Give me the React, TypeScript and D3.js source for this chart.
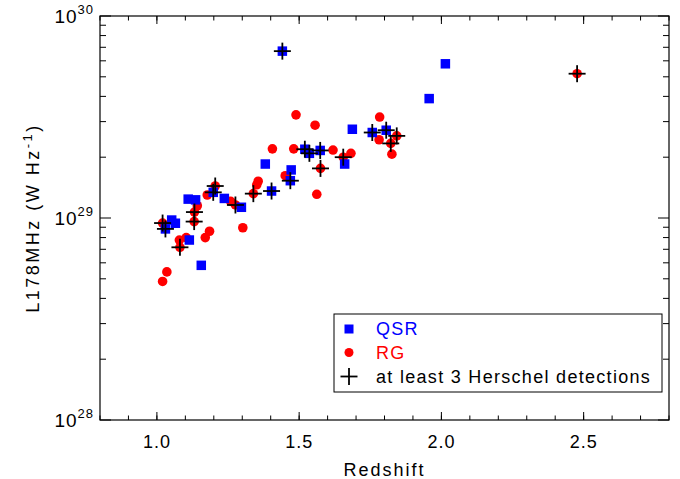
import React from "react";
import * as d3 from "d3";

// QSR (blue squares)
const qsrZ = [1.441, 2.014, 1.957, 1.687, 1.757, 1.806, 1.520, 1.536, 1.574, 1.660, 1.381, 1.472, 1.469, 1.403, 1.198, 1.237, 1.297, 1.110, 1.136, 1.052, 1.065, 1.030, 1.114, 1.156];
const qsrL = [6.7e29, 5.8e29, 3.9e29, 2.75e29, 2.65e29, 2.72e29, 2.19e29, 2.09e29, 2.16e29, 1.85e29, 1.85e29, 1.73e29, 1.53e29, 1.36e29, 1.34e29, 1.25e29, 1.13e29, 1.24e29, 1.23e29, 9.77e28, 9.42e28, 8.83e28, 7.78e28, 5.83e28];
const qsrHerschel = [1, 0, 0, 0, 1, 1, 1, 1, 1, 0, 0, 0, 1, 1, 1, 0, 0, 0, 0, 0, 0, 1, 0, 0];

// RG (red circles)
const rgZ = [2.477, 1.489, 1.556, 1.783, 1.843, 1.781, 1.822, 1.826, 1.406, 1.481, 1.619, 1.655, 1.682, 1.575, 1.451, 1.356, 1.351, 1.339, 1.562, 1.205, 1.177, 1.259, 1.276, 1.142, 1.132, 1.131, 1.302, 1.185, 1.170, 1.020, 1.079, 1.103, 1.081, 1.035, 1.020];
const rgL = [5.18e29, 3.24e29, 2.88e29, 3.16e29, 2.55e29, 2.44e29, 2.34e29, 2.07e29, 2.2e29, 2.2e29, 2.17e29, 2.0e29, 2.09e29, 1.76e29, 1.62e29, 1.52e29, 1.46e29, 1.32e29, 1.31e29, 1.44e29, 1.3e29, 1.21e29, 1.16e29, 1.15e29, 1.07e29, 9.6e28, 8.95e28, 8.6e28, 8.0e28, 9.44e28, 7.78e28, 8.0e28, 7.16e28, 5.41e28, 4.85e28];
const rgHerschel = [1, 0, 0, 0, 1, 0, 1, 0, 0, 0, 0, 1, 0, 1, 0, 0, 0, 1, 0, 1, 0, 0, 1, 0, 1, 1, 0, 0, 0, 1, 0, 0, 1, 0, 0];

const xMajorTicks = [1.0, 1.5, 2.0, 2.5];
const xTickLabels = ["1.0", "1.5", "2.0", "2.5"];
const yMajorExps = [28, 29, 30];
const legendLabels = ["QSR", "RG", "at least 3 Herschel detections"];

const W = 680, H = 479;
const L = 100, R = 669, T = 16, B = 420;
const FONT = "'Liberation Sans', Arial, sans-serif";

export default function App() {
  const x = d3.scaleLinear().domain([0.8, 2.8]).range([L, R]);
  const y = d3.scaleLog().domain([1e28, 1e30]).range([B, T]);

  const xMinor = d3.range(8, 29).map((v) => v / 10);
  const yMinor: number[] = [];
  for (const e of [28, 29]) for (let m = 2; m <= 9; m++) yMinor.push(m * Math.pow(10, e));

  const sq = 9.5;
  const rr = 4.8;
  const cr = 8.5;

  const cross = (cx: number, cy: number, key: string) => (
    <g key={key} stroke="#000" strokeWidth={1.8}>
      <line x1={cx - cr} x2={cx + cr} y1={cy} y2={cy} />
      <line x1={cx} x2={cx} y1={cy - cr} y2={cy + cr} />
    </g>
  );

  const crosses: JSX.Element[] = [];
  rgZ.forEach((z, i) => { if (rgHerschel[i]) crosses.push(cross(x(z), y(rgL[i]), "rc" + i)); });
  qsrZ.forEach((z, i) => { if (qsrHerschel[i]) crosses.push(cross(x(z), y(qsrL[i]), "qc" + i)); });

  const lgX = 334, lgY = 314, lgW = 328, lgH = 78;
  const rowY = [329, 352.5, 376.5];

  return (
    <svg width={W} height={H} style={{ position: "absolute", left: 0, top: 0 }} fontFamily={FONT}>
      <rect width={W} height={H} fill="#fff" />
      {/* points */}
      {rgZ.map((z, i) => (
        <circle key={"r" + i} cx={x(z)} cy={y(rgL[i])} r={rr} fill="#ff0000" />
      ))}
      {qsrZ.map((z, i) => (
        <rect key={"q" + i} x={x(z) - sq / 2} y={y(qsrL[i]) - sq / 2} width={sq} height={sq} fill="#0000ff" />
      ))}
      {crosses}

      {/* frame */}
      <rect x={L} y={T} width={R - L} height={B - T} fill="none" stroke="#000" strokeWidth={1.2} />
      {/* x ticks */}
      {xMinor.map((v, i) => (
        <g key={"xm" + i} stroke="#000" strokeWidth={1}>
          <line x1={x(v)} x2={x(v)} y1={B} y2={B - 4.5} />
          <line x1={x(v)} x2={x(v)} y1={T} y2={T + 4.5} />
        </g>
      ))}
      {xMajorTicks.map((v, i) => (
        <g key={"xM" + i}>
          <line x1={x(v)} x2={x(v)} y1={B} y2={B - 8} stroke="#000" strokeWidth={1} />
          <line x1={x(v)} x2={x(v)} y1={T} y2={T + 8} stroke="#000" strokeWidth={1} />
          <text x={x(v)} y={448} textAnchor="middle" fontSize={18} letterSpacing={1}>{xTickLabels[i]}</text>
        </g>
      ))}
      {/* y ticks */}
      {yMinor.map((v, i) => (
        <g key={"ym" + i} stroke="#000" strokeWidth={1}>
          <line x1={L} x2={L + 6} y1={y(v)} y2={y(v)} />
          <line x1={R} x2={R - 6} y1={y(v)} y2={y(v)} />
        </g>
      ))}
      {yMajorExps.map((e, i) => {
        const yy = y(Math.pow(10, e));
        return (
          <g key={"yM" + i}>
            <line x1={L} x2={L + 11} y1={yy} y2={yy} stroke="#000" strokeWidth={1} />
            <line x1={R} x2={R - 11} y1={yy} y2={yy} stroke="#000" strokeWidth={1} />
            <text x={94} y={yy + 7} textAnchor="end" fontSize={19} letterSpacing={1}>
              10<tspan dy={-9} fontSize={13}>{e}</tspan>
            </text>
          </g>
        );
      })}

      {/* axis titles */}
      <text x={(L + R) / 2} y={476} textAnchor="middle" fontSize={18} letterSpacing={2}>Redshift</text>
      <text transform={`translate(39,${(T + B) / 2}) rotate(-90)`} textAnchor="middle" fontSize={18} letterSpacing={2.5}>
        L178MHz (W Hz<tspan dy={-7} fontSize={13}>-1</tspan><tspan dy={7}>)</tspan>
      </text>

      {/* legend */}
      <rect x={lgX} y={lgY} width={lgW} height={lgH} fill="#fff" stroke="#000" strokeWidth={1} />
      <rect x={349 - 4.5} y={rowY[0] - 4.5} width={9} height={9} fill="#0000ff" />
      <circle cx={349} cy={rowY[1]} r={4.5} fill="#ff0000" />
      {cross(349, rowY[2], "lgc")}
      <text x={376} y={rowY[0] + 6} fontSize={18} letterSpacing={1.3} fill="#0000ff">{legendLabels[0]}</text>
      <text x={376} y={rowY[1] + 6} fontSize={18} letterSpacing={1.3} fill="#ff0000">{legendLabels[1]}</text>
      <text x={376} y={rowY[2] + 6} fontSize={18} letterSpacing={1.3} fill="#000">{legendLabels[2]}</text>
    </svg>
  );
}
